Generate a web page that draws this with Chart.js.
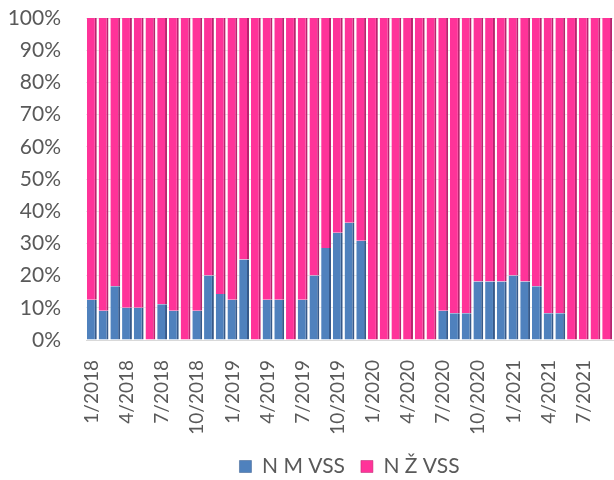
<!DOCTYPE html>
<html><head><meta charset="utf-8">
<script src="https://cdn.jsdelivr.net/npm/chart.js@4/dist/chart.umd.min.js"></script>
<style>html,body{margin:0;padding:0;background:#fff}#wrap{width:614px;height:480px}</style>
</head><body><div id="wrap"><canvas id="c" width="614" height="480"></canvas></div>
<script>
const categories = ["1/2018","2/2018","3/2018","4/2018","5/2018","6/2018","7/2018","8/2018","9/2018","10/2018","11/2018","12/2018",
"1/2019","2/2019","3/2019","4/2019","5/2019","6/2019","7/2019","8/2019","9/2019","10/2019","11/2019","12/2019",
"1/2020","2/2020","3/2020","4/2020","5/2020","6/2020","7/2020","8/2020","9/2020","10/2020","11/2020","12/2020",
"1/2021","2/2021","3/2021","4/2021","5/2021","6/2021","7/2021","8/2021","9/2021"];
const seriesM = [12.5,9.1,16.7,10,10,0,11.1,9.1,0,9.1,20,14.3,
12.5,25,0,12.5,12.5,0,12.5,20,28.6,33.3,36.4,30.8,
0,0,0,0,0,0,9.1,8.3,8.3,18.2,18.2,18.2,
20,18.2,16.7,8.3,8.3,0,0,0,0];
const seriesZ = [87.5,90.9,83.3,90,90,100,88.9,90.9,100,90.9,80,85.7,
87.5,75,100,87.5,87.5,100,87.5,80,71.4,66.7,63.6,69.2,
100,100,100,100,100,100,90.9,91.7,91.7,81.8,81.8,81.8,
80,81.8,83.3,91.7,91.7,100,100,100,100];
const yTicks = ["0%","10%","20%","30%","40%","50%","60%","70%","80%","90%","100%"];
const seriesNames = ["N M VSS","N Ž VSS"];

new Chart(document.getElementById('c'), {
  type: 'bar',
  data: {
    labels: categories,
    datasets: [
      {label: seriesNames[0], data: seriesM, backgroundColor: '#4F81BD', borderColor: '#36598A',
       borderWidth: {left:0, right:2, top:0, bottom:0}, borderSkipped: false},
      {label: seriesNames[1], data: seriesZ, backgroundColor: '#FF3399', borderColor: '#B8246E',
       borderWidth: {left:0, right:2, top:0, bottom:0}, borderSkipped: false}
    ]
  },
  options: {
    responsive: false,
    animation: false,
    layout: {padding: {left: 0, right: 1, top: 18, bottom: -7}},
    datasets: {bar: {barPercentage: 0.84, categoryPercentage: 1.0}},
    plugins: {
      legend: {position: 'bottom', fullSize: false,
        labels: {boxWidth: 12, boxHeight: 12, padding: 16, color: '#595959',
          font: {family: 'Lato', size: 21}}},
      tooltip: {enabled: false}
    },
    scales: {
      x: {stacked: true, offset: true,
        grid: {display: false},
        border: {color: '#D9D9D9'},
        afterFit: function(s) { s.paddingLeft = 0; s.paddingRight = 0; s.height = 100; },
        ticks: {autoSkip: false, maxRotation: 90, minRotation: 90, padding: 12, color: '#595959',
          font: {family: 'Lato', size: 19},
          callback: function(v, i) { return i % 3 === 0 ? categories[i] : ''; }}
      },
      y: {stacked: true, min: 0, max: 100,
        grid: {color: '#E8E8E8', drawTicks: false},
        border: {display: false},
        afterFit: function(s) { s.width = 86; s.paddingTop = 0; s.paddingBottom = 0; },
        ticks: {stepSize: 10, padding: 25, color: '#595959',
          font: {family: 'Lato', size: 21},
          callback: function(v) { return yTicks[Math.round(v/10)]; }}
      }
    }
  }
});
</script></body></html>
